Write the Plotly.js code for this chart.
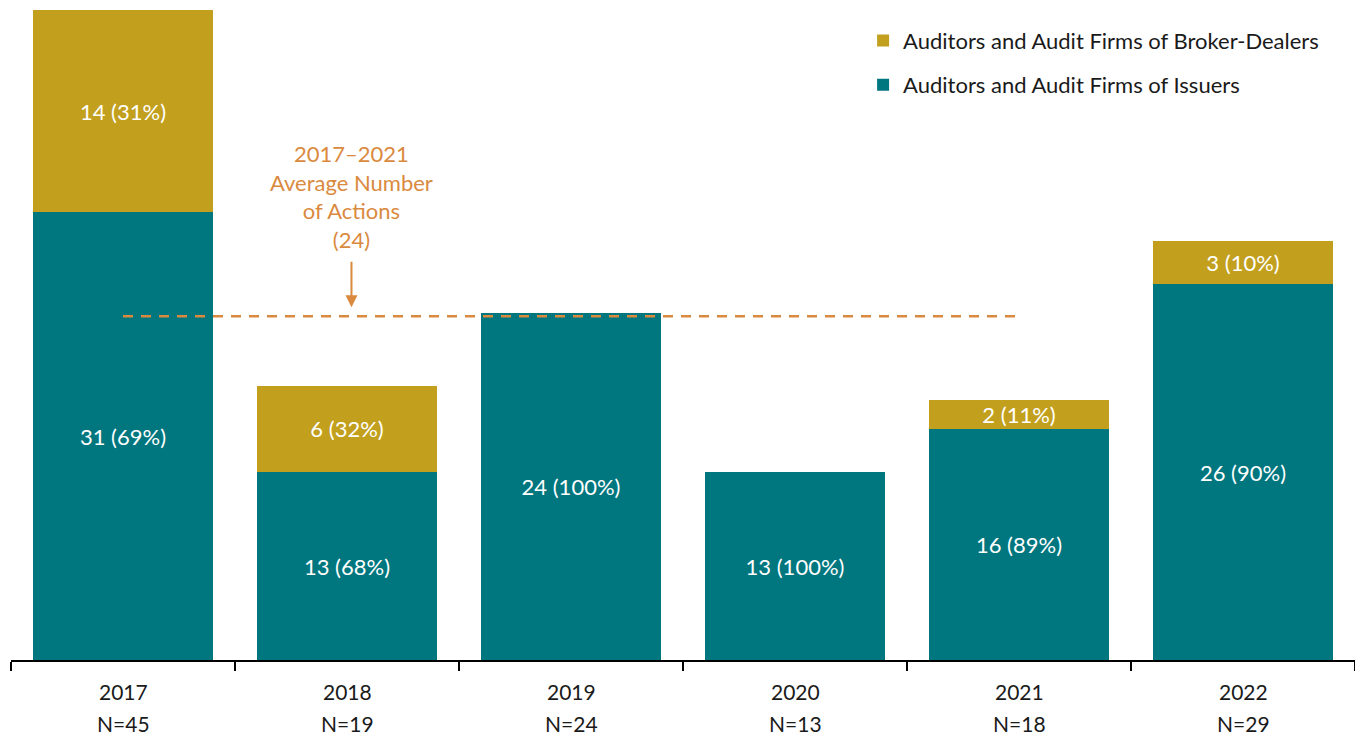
<!DOCTYPE html>
<html>
<head>
<meta charset="utf-8">
<script src="https://cdn.plot.ly/plotly-3.0.1.min.js"></script>
<style>html,body{margin:0;padding:0;background:#fff;}#chart{width:1355px;height:736px;}</style>
</head>
<body>
<div id="chart"></div>
<script>
const categories = ["2017", "2018", "2019", "2020", "2021", "2022"];
const totals = [45, 19, 24, 13, 18, 29];
const issuers = [31, 13, 24, 13, 16, 26];
const brokerDealers = [14, 6, 0, 0, 2, 3];
const averageLabel = "2017–2021<br>Average Number<br>of Actions<br>(24)";
const averageValue = 23.8;
const seriesNames = ["Auditors and Audit Firms of Issuers", "Auditors and Audit Firms of Broker-Dealers"];

const FONT = "Lato, 'Open Sans', sans-serif";
const TEAL = "#00767E";
const GOLD = "#C2A01E";
const ORANGE = "#DA8A3E";

const xIdx = categories.map((c, i) => i);

function labels(vals) {
  return vals.map((v, i) => v > 0 ? `${v} (${Math.round(v / totals[i] * 100)}%)` : "");
}

const traces = [
  {
    type: "bar", name: seriesNames[0], x: xIdx, y: issuers, legend: "legend2",
    marker: { color: TEAL }, text: labels(issuers), textposition: "inside",
    insidetextanchor: "middle", constraintext: "none",
    textfont: { color: "#ffffff", size: 22, family: FONT },
    hoverinfo: "none"
  },
  {
    type: "bar", name: seriesNames[1], x: xIdx, y: brokerDealers, legend: "legend",
    marker: { color: GOLD }, text: labels(brokerDealers), textposition: "inside",
    insidetextanchor: "middle", constraintext: "none",
    textfont: { color: "#ffffff", size: 22, family: FONT },
    hoverinfo: "none"
  }
];

const annotations = [];
categories.forEach((c, i) => {
  annotations.push({ x: i, xref: "x", y: 0, yref: "paper", yanchor: "middle", yshift: -31,
    text: c, showarrow: false, font: { size: 21, color: "#1a1a1a", family: FONT } });
  annotations.push({ x: i, xref: "x", y: 0, yref: "paper", yanchor: "middle", yshift: -63,
    text: "N=" + totals[i], showarrow: false, font: { size: 21, color: "#1a1a1a", family: FONT } });
});
annotations.push({ x: 1.02, xref: "x", y: averageValue, yref: "y", yanchor: "bottom", yshift: 61,
  text: averageLabel, showarrow: false, font: { size: 22, color: ORANGE, family: FONT } });
annotations.push({ x: 1.02, xref: "x", y: averageValue, yref: "y", text: "", showarrow: true,
  ax: 0, ay: -56, arrowhead: 2, arrowsize: 1.2, arrowwidth: 2, arrowcolor: ORANGE, standoff: 9 });

const boundaries = [];
for (let i = 0; i <= categories.length; i++) boundaries.push(i - 0.5);

const legendBase = {
  xanchor: "left", yanchor: "top",
  font: { size: 22, color: "#1a1a1a", family: FONT }, bgcolor: "rgba(0,0,0,0)"
};

const layout = {
  width: 1355, height: 736,
  margin: { l: 11, r: 0, t: 10, b: 76 },
  paper_bgcolor: "#ffffff", plot_bgcolor: "#ffffff",
  barmode: "stack", bargap: 0.2,
  font: { family: FONT, size: 19, color: "#1a1a1a" },
  xaxis: {
    type: "linear", range: [-0.5, categories.length - 0.5], showgrid: false, zeroline: false,
    showline: true, linecolor: "#000000", linewidth: 1.5,
    ticks: "outside", tickmode: "array", tickvals: boundaries, ticktext: boundaries.map(() => ""),
    ticklen: 9, tickwidth: 1.5, tickcolor: "#000000",
    showticklabels: false, fixedrange: true
  },
  yaxis: { range: [0, 45], visible: false, showgrid: false, zeroline: false, fixedrange: true },
  legend: Object.assign({ x: 0.634, y: 0.985 }, legendBase),
  legend2: Object.assign({ x: 0.634, y: 0.917 }, legendBase),
  showlegend: true,
  shapes: [{
    type: "line", xref: "x", yref: "y", x0: 0, x1: 4, y0: averageValue, y1: averageValue,
    line: { color: ORANGE, width: 2.5, dash: "10px,8px" }
  }],
  annotations: annotations
};

Plotly.newPlot("chart", traces, layout, { displayModeBar: false, staticPlot: true });
</script>
</body>
</html>
